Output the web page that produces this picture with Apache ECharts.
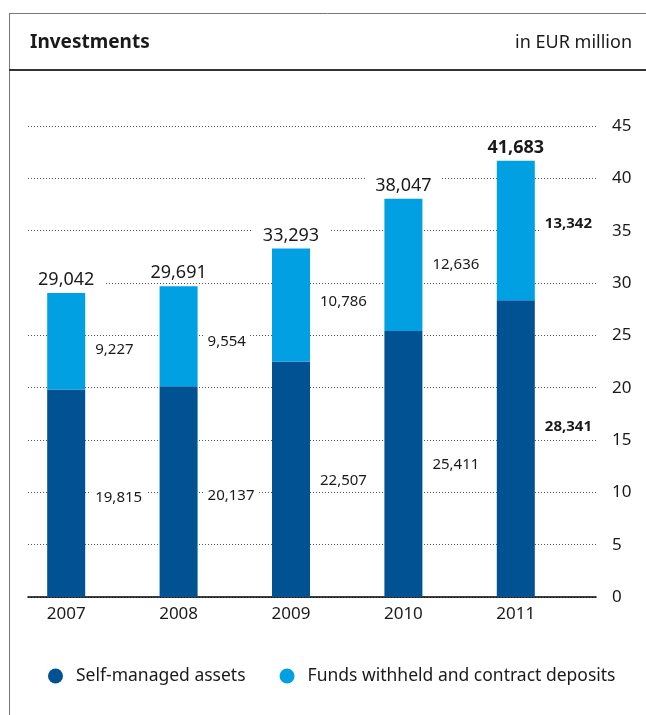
<!DOCTYPE html>
<html>
<head>
<meta charset="utf-8">
<script src="https://cdn.jsdelivr.net/npm/echarts@6/dist/echarts.min.js"></script>
<style>
html,body{margin:0;padding:0;background:#fff;}
#c{width:646px;height:715px;}
</style>
</head>
<body>
<div id="c"></div>
<script>
const years = ['2007', '2008', '2009', '2010', '2011'];
const selfManaged = [19815, 20137, 22507, 25411, 28341];
const fundsWithheld = [9227, 9554, 10786, 12636, 13342];
const totals = [29042, 29691, 33293, 38047, 41683];
const yTicks = [0, 5, 10, 15, 20, 25, 30, 35, 40, 45];
const seriesNames = ['Self-managed assets', 'Funds withheld and contract deposits'];

// label nudges (style only)
const darkLabelNudge = [4, 4, 2, 1, -22];
const lightLabelNudge = [8, 6, -3, 0, -7];

const DARK = '#005293';
const LIGHT = '#00a0e2';
const TXT = '#1a1a1a';
const FONT = '"Noto Sans", sans-serif';

const fmt = v => v.toLocaleString('en-US');

function segData(vals, nudges) {
  return vals.map((v, i) => ({
    value: v,
    label: { offset: [0, nudges[i]], fontWeight: i === vals.length - 1 ? 'bold' : 'normal' }
  }));
}

const chart = echarts.init(document.getElementById('c'));
chart.setOption({
  animation: false,
  textStyle: { fontFamily: FONT, color: TXT },
  title: [
    { text: 'Investments', left: 25, top: 28, textStyle: { fontFamily: FONT, fontSize: 19, fontWeight: 'bold', color: TXT } },
    { text: 'in EUR million', right: 9, top: 29, textStyle: { fontFamily: FONT, fontSize: 18, fontWeight: 'normal', color: TXT } }
  ],
  graphic: [
    { type: 'line', shape: { x1: 9, y1: 13.5, x2: 646, y2: 13.5 }, style: { stroke: '#777', lineWidth: 1 } },
    { type: 'line', shape: { x1: 9.5, y1: 13, x2: 9.5, y2: 715 }, style: { stroke: '#777', lineWidth: 1 } },
    { type: 'line', shape: { x1: 9, y1: 70, x2: 646, y2: 70 }, style: { stroke: '#333', lineWidth: 2 } }
  ],
  legend: {
    data: seriesNames,
    left: 43, top: 662,
    icon: 'circle', itemWidth: 15, itemHeight: 15, itemGap: 34,
    textStyle: { fontFamily: FONT, fontSize: 17.5, color: TXT, padding: [0, 0, 0, 8] }
  },
  grid: [
    { left: 10, width: 562, top: 126, bottom: 118 },
    { left: 28, right: 50, top: 126, bottom: 118 }
  ],
  xAxis: [
    { type: 'category', gridIndex: 0, data: years,
      axisLine: { show: false }, axisTick: { show: false },
      axisLabel: { fontFamily: FONT, fontSize: 17, color: TXT, margin: 9 } },
    { type: 'value', gridIndex: 1, min: 0, max: 1,
      axisLine: { show: true, lineStyle: { color: '#000', width: 1.5 } },
      axisTick: { show: false }, axisLabel: { show: false }, splitLine: { show: false } }
  ],
  yAxis: [
    { type: 'value', gridIndex: 0, min: 0, max: 45000, interval: 5000, show: false },
    { type: 'value', gridIndex: 1, min: 0, max: 45000, interval: 5000, position: 'right',
      axisLine: { show: false }, axisTick: { show: false },
      axisLabel: { fontFamily: FONT, fontSize: 17, color: TXT, margin: 16,
        formatter: v => String(yTicks[Math.round(v / 5000)]) },
      splitLine: { show: true, lineStyle: { color: '#555', type: [1, 2], width: 1 } } }
  ],
  series: [
    { name: seriesNames[0], type: 'bar', stack: 'inv', xAxisIndex: 0, yAxisIndex: 0,
      barWidth: 38, itemStyle: { color: DARK },
      label: { show: true, position: 'right', distance: 6, fontFamily: FONT, fontSize: 15, color: TXT,
        backgroundColor: '#fff', padding: [1, 4], formatter: p => fmt(p.value) },
      data: segData(selfManaged, darkLabelNudge) },
    { name: seriesNames[1], type: 'bar', stack: 'inv', xAxisIndex: 0, yAxisIndex: 0,
      barWidth: 38, itemStyle: { color: LIGHT },
      label: { show: true, position: 'right', distance: 6, fontFamily: FONT, fontSize: 15, color: TXT,
        backgroundColor: '#fff', padding: [1, 4], formatter: p => fmt(p.value) },
      data: segData(fundsWithheld, lightLabelNudge) },
    { name: 'Total', type: 'scatter', xAxisIndex: 0, yAxisIndex: 0, symbolSize: 0, z: 5,
      itemStyle: { opacity: 1 },
      label: { show: true, position: 'top', distance: 4, fontFamily: FONT, fontSize: 18, color: TXT,
        backgroundColor: '#fff', padding: [0, 10], formatter: p => fmt(p.value) },
      data: totals.map((v, i) => ({ value: v, label: { fontWeight: i === totals.length - 1 ? 'bold' : 'normal' } })) }
  ]
});
</script>
</body>
</html>
